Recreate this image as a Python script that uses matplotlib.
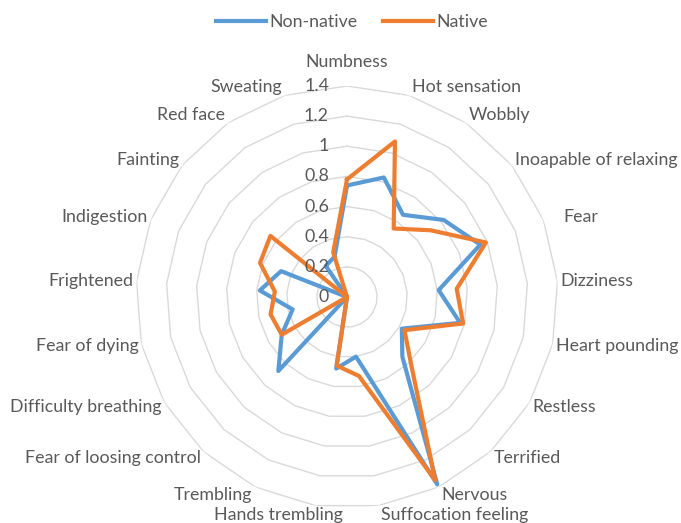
import numpy as np
import matplotlib
matplotlib.use("Agg")
import matplotlib.pyplot as plt

categories = ["Numbness", "Hot sensation", "Wobbly", "Inoapable of relaxing", "Fear",
              "Dizziness", "Heart pounding", "Restless", "Terrified", "Nervous",
              "Suffocation feeling", "Hands trembling", "Trembling",
              "Fear of loosing control", "Difficulty breathing", "Fear of dying",
              "Frightened", "Indigestion", "Fainting", "Red face", "Sweating"]
non_native = [0.74, 0.83, 0.66, 0.82, 0.95, 0.61, 0.77, 0.42, 0.54, 1.38,
              0.40, 0.48, 0.0, 0.67, 0.50, 0.37, 0.58, 0.47, 0.0, 0.25, 0.28]
native = [0.78, 1.08, 0.55, 0.71, 0.99, 0.73, 0.79, 0.44, 0.63, 1.35,
          0.53, 0.46, 0.0, 0.0, 0.50, 0.52, 0.48, 0.62, 0.65, 0.0, 0.31]
ring_levels = [0.2, 0.4, 0.6, 0.8, 1.0, 1.2, 1.4]
tick_labels = ["0", "0.2", "0.4", "0.6", "0.8", "1", "1.2", "1.4"]

plt.rcParams['font.family'] = ['Lato', 'DejaVu Sans']
TXT = '#595959'
BLUE = '#5B9BD5'
ORANGE = '#ED7D31'
FS = 12.8

W, H = 681, 523
fig = plt.figure(figsize=(W / 100, H / 100), dpi=100)
cx, cy, R = 347, 297, 211
ax = fig.add_axes([(cx - R) / W, (H - cy - R) / H, 2 * R / W, 2 * R / H], projection='polar')
ax.set_theta_offset(np.pi / 2)
ax.set_theta_direction(-1)
ax.set_ylim(0, 1.4)
ax.grid(False)
ax.spines['polar'].set_visible(False)
ax.set_xticks([])
ax.set_yticks([])
ax.patch.set_alpha(0)

n = len(categories)
theta = np.arange(n) * 2 * np.pi / n
theta_c = np.append(theta, theta[0])

for lv in ring_levels:
    ax.plot(theta_c, [lv] * (n + 1), color='#D9D9D9', lw=1.0, zorder=1)

l1, = ax.plot(theta_c, non_native + non_native[:1], color=BLUE, lw=3.0,
              solid_joinstyle='round', zorder=3, label='Non-native')
l2, = ax.plot(theta_c, native + native[:1], color=ORANGE, lw=3.0,
              solid_joinstyle='round', zorder=4, label='Native')

# radial tick labels
for lv, lab in zip([0.0] + ring_levels, tick_labels):
    ax.annotate(lab, xy=(0, lv), xytext=(-18, 0), textcoords='offset pixels',
                ha='right', va='center', fontsize=FS, color=TXT, zorder=5)

# category labels
nudges = {"Fear": (17, 0), "Hands trembling": (30, 0)}
for t, cat in zip(theta, categories):
    s, c = np.sin(t), np.cos(t)
    if abs(s) < 1e-6:
        ha = 'center'
        dx, dy = 0, 24
    else:
        ha = 'left' if s > 0 else 'right'
        dx, dy = 3 * np.sign(s), 9 * c
    ex, ey = nudges.get(cat, (0, 0))
    ax.annotate(cat, xy=(t, 1.4), xytext=(dx + ex, dy + ey), textcoords='offset pixels',
                ha=ha, va='center', fontsize=FS, color=TXT, annotation_clip=False)

fig.legend(handles=[l1, l2], loc='upper center', bbox_to_anchor=(0.517, 1.003), ncol=2,
           frameon=False, fontsize=FS, handlelength=2.8, columnspacing=1.4,
           handletextpad=0.2, labelcolor=TXT)

fig.savefig('out.png', dpi=100)
